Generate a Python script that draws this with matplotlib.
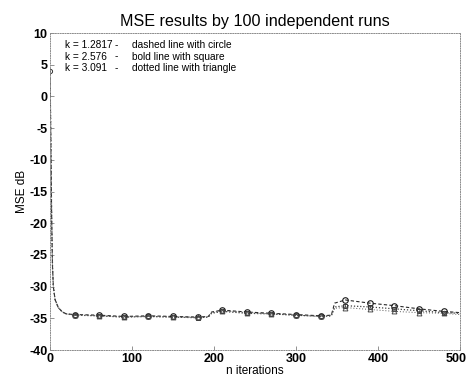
import numpy as np
import matplotlib
matplotlib.use("Agg")
import matplotlib.pyplot as plt
import matplotlib.transforms as mtransforms

plt.rcParams["axes.unicode_minus"] = False

# values (MSE in dB vs iteration n)
n_line = [0, 1, 2, 3, 4, 6, 10, 15, 20, 30, 60, 90, 120, 150, 180, 193, 197,
          210, 240, 270, 300, 330, 343, 347, 360, 390, 420, 450, 480, 500]
mse_circle = [4.0, -8, -20, -27, -30, -32, -33.3, -34.0, -34.3, -34.4, -34.5, -34.7,
              -34.6, -34.7, -34.8, -34.7, -34.0, -33.7, -34.0, -34.2, -34.4, -34.6,
              -34.5, -32.6, -32.1, -32.6, -33.0, -33.5, -33.9, -34.1]
mse_square = [4.0, -8, -20, -27, -30, -32, -33.3, -34.0, -34.3, -34.5, -34.6, -34.8,
              -34.7, -34.8, -34.9, -34.8, -34.2, -33.9, -34.2, -34.3, -34.5, -34.7,
              -34.6, -33.2, -33.0, -33.2, -33.5, -33.8, -34.1, -34.2]
mse_triangle = [4.0, -8, -20, -27, -30, -32, -33.3, -34.0, -34.3, -34.5, -34.6, -34.8,
                -34.7, -34.8, -34.8, -34.8, -34.1, -33.8, -34.1, -34.3, -34.5, -34.7,
                -34.6, -33.4, -33.3, -33.6, -33.9, -34.1, -34.2, -34.4]

legend_k = ["k = 1.2817", "k = 2.576", "k = 3.091"]
legend_desc = ["dashed line with circle", "bold line with square",
               "dotted line with triangle"]

fig = plt.figure(figsize=(4.68, 3.76), dpi=100)
ax = fig.add_axes([0.107, 0.069, 0.876, 0.843])

marker_every = [i for i, n in enumerate(n_line) if n % 30 == 0 and n > 0]

ax.plot(n_line, mse_circle, color="0.15", lw=0.8, ls=(0, (3, 2)),
        marker="o", ms=4, mfc="none", mec="0.1", mew=0.8, markevery=marker_every)
ax.plot(n_line, mse_square, color="0.25", lw=0.9, ls=(0, (1, 1.5)),
        marker="s", ms=3.5, mfc="none", mec="0.2", mew=0.7, markevery=marker_every)
ax.plot(n_line, mse_triangle, color="0.35", lw=0.7, ls=(0, (1, 2)),
        marker="^", ms=3.5, mfc="none", mec="0.3", mew=0.7, markevery=marker_every)
ax.plot([0], [mse_circle[0]], marker="o", ms=3, mfc="none", mec="0.2", mew=0.7)

ax.set_xlim(0, 500)
ax.set_ylim(-40, 10)
ax.set_xticks(np.arange(0, 501, 100))
ax.set_yticks(np.arange(-40, 11, 5))
ax.tick_params(direction="in", length=3, width=0.6, color="0.5", labelsize=9, pad=2)
for lab in ax.get_xticklabels() + ax.get_yticklabels():
    lab.set_fontweight("bold")
    lab.set_family("Liberation Sans")
# keep the last x label ("500") inside the canvas
last = ax.get_xticklabels()[-1]
last.set_transform(last.get_transform() +
                   mtransforms.ScaledTranslation(-4 / 100, 0, fig.dpi_scale_trans))
for sp in ax.spines.values():
    sp.set_color("0.55")
    sp.set_linewidth(0.7)
    sp.set_linestyle((0, (1, 1.5)))

ax.set_title("MSE results by 100 independent runs", fontsize=11.6,
             family="Liberation Sans", pad=5)
ax.set_xlabel("n iterations", fontsize=8.5, family="Liberation Sans", labelpad=0)
ax.set_ylabel("MSE dB", fontsize=8.5, family="Liberation Sans", labelpad=1)

for i, (k, d) in enumerate(zip(legend_k, legend_desc)):
    y = 0.962 - i * 0.036
    ax.text(0.036, y, k, transform=ax.transAxes, fontsize=7.3,
            family="Liberation Sans", va="center")
    ax.text(0.158, y, "-", transform=ax.transAxes, fontsize=7.3,
            family="Liberation Sans", va="center")
    ax.text(0.2, y, d, transform=ax.transAxes, fontsize=7.3,
            family="Liberation Sans", va="center")

fig.savefig("out.png", dpi=100)
